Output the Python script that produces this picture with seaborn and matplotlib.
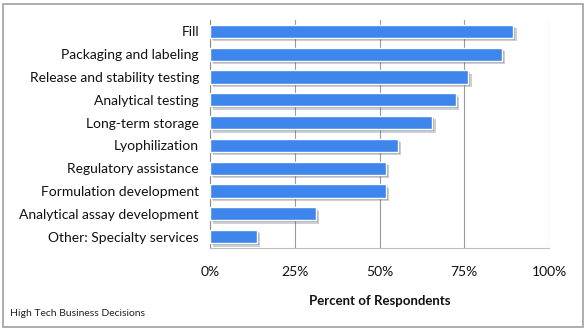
import matplotlib
matplotlib.use("Agg")
import matplotlib.pyplot as plt
import matplotlib.patheffects as pe
from matplotlib.patches import Rectangle
import seaborn as sns
import pandas as pd

categories = ["Fill", "Packaging and labeling", "Release and stability testing",
              "Analytical testing", "Long-term storage", "Lyophilization",
              "Regulatory assistance", "Formulation development",
              "Analytical assay development", "Other: Specialty services"]
values = [89.5, 86.0, 76.2, 72.5, 65.6, 55.4, 51.8, 51.8, 31.2, 13.8]
xticks = [0, 25, 50, 75, 100]
xticklabels = ["0%", "25%", "50%", "75%", "100%"]

sns.set_style("white")
plt.rcParams["font.family"] = ["Lato", "DejaVu Sans"]

df = pd.DataFrame({"cat": categories, "val": values})

fig = plt.figure(figsize=(5.86, 3.31), dpi=100)
ax = fig.add_axes([210/586, 1-248/331, (549-210)/586, (248-20)/331])

sns.barplot(data=df, x="val", y="cat", ax=ax, color="#3F86EC", saturation=1,
            width=0.58, orient="h")
for p in ax.patches:
    p.set_path_effects([pe.SimplePatchShadow(offset=(2.5, -2.5), shadow_rgbFace="#50556a", alpha=0.28),
                        pe.SimplePatchShadow(offset=(1.5, -1.5), shadow_rgbFace="#50556a", alpha=0.3),
                        pe.Normal()])
    p.set_zorder(3)

ax.set_xlim(0, 100)
ax.set_ylim(len(categories) - 0.5, -0.5)
ax.set_xticks(xticks)
ax.set_xticklabels(xticklabels, fontsize=10, color="#111111")
ax.set_yticks(range(len(categories)))
ax.set_yticklabels(categories, fontsize=10, color="#111111")
ax.set_xlabel("Percent of Respondents", fontsize=9.5, fontweight="bold", labelpad=12, color="#111111")
ax.set_ylabel("")

ax.grid(axis="x", color="#9a9a9a", linewidth=0.8, zorder=0)
ax.set_axisbelow(True)
for s in ["top", "right"]:
    ax.spines[s].set_visible(False)
ax.spines["left"].set_color("#8c8c8c")
ax.spines["left"].set_linewidth(0.8)
ax.spines["bottom"].set_color("#bdbdbd")
ax.spines["bottom"].set_linewidth(0.8)

# category boundary ticks on the left spine
ax.set_yticks([i - 0.5 for i in range(len(categories) + 1)], minor=True)
ax.tick_params(axis="y", which="major", length=0, pad=8)
ax.tick_params(axis="y", which="minor", length=4, color="#8c8c8c", width=0.8, direction="out")
ax.tick_params(axis="x", which="major", length=0, pad=13)

fig.text(10/586, 1-314/331, "High Tech Business Decisions", fontsize=7.5, color="#222222", va="center")
fig.patches.append(Rectangle((3/586, 4/331), 580/586, 323/331, transform=fig.transFigure,
                             fill=False, edgecolor="#a0a0a0", linewidth=1.2))

fig.savefig("out.png", dpi=100)
